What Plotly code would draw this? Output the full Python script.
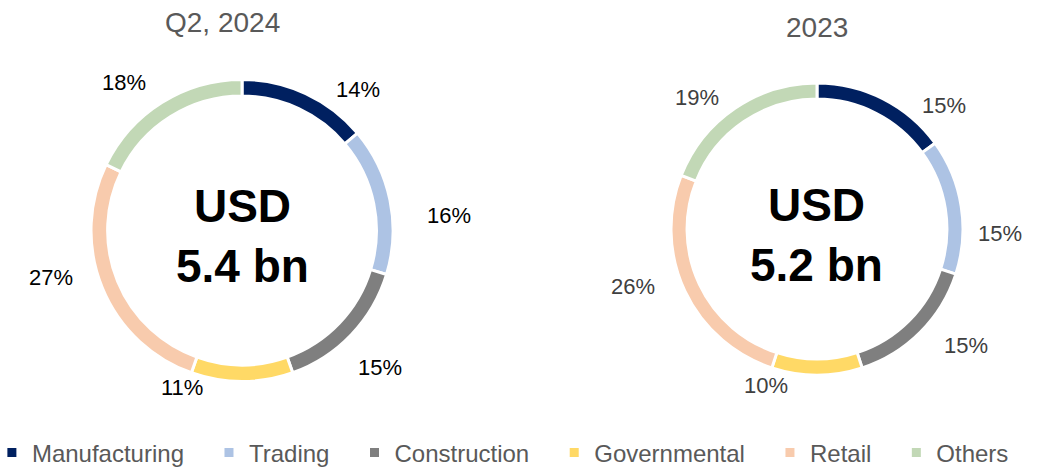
import math
import plotly.graph_objects as go

# ---- data ----
categories = ["Manufacturing", "Trading", "Construction", "Governmental", "Retail", "Others"]
values_q2_2024 = [14, 16, 15, 11, 27, 18]
values_2023 = [15, 15, 15, 10, 26, 19]
chart_titles = ["Q2, 2024", "2023"]
center_texts = ["USD<br>5.4 bn", "USD<br>5.2 bn"]

# ---- style ----
colors = ["#002060", "#ADC3E4", "#7F7F7F", "#FFD966", "#F8CBAD", "#C2D8B6"]
W, H = 1051, 468
FONT = "Arial, Liberation Sans, sans-serif"
domains = [
    dict(x=[0.0866, 0.3740], y=[0.1838, 0.8312]),
    dict(x=[0.6384, 0.9163], y=[0.1987, 0.8226]),
]
label_colors = ["#000000", "#404040"]
# manual label placement tweaks (angle nudge in degrees, distance as multiple of radius)
label_angle_nudge = [[14.4, 7.5, 1.3, 20.8, 8.5, -6.3],
                     [18.9, 10.3, -6.9, 18.2, 7.8, -8.0]]
label_radius = [[1.207, 1.374, 1.288, 1.112, 1.303, 1.254],
                [1.215, 1.253, 1.297, 1.129, 1.320, 1.219]]
title_xshift = [-20, 0]
title_yshift = [0, -5]
NBSP = "\u00a0"

fig = go.Figure()
annotations = []
series = [values_q2_2024, values_2023]

for i, vals in enumerate(series):
    d = domains[i]
    fig.add_trace(go.Pie(
        labels=[c + NBSP * 3 for c in categories],
        values=vals,
        hole=0.89,
        sort=False,
        direction="clockwise",
        rotation=0,
        marker=dict(colors=colors, line=dict(color="white", width=3)),
        textinfo="none",
        hoverinfo="label+percent",
        domain=d,
        showlegend=True,
    ))
    cx = (d["x"][0] + d["x"][1]) / 2
    cy = (d["y"][0] + d["y"][1]) / 2
    r_px = min((d["x"][1] - d["x"][0]) * W, (d["y"][1] - d["y"][0]) * H) / 2
    total = sum(vals)
    cum = 0
    for j, v in enumerate(vals):
        mid = (cum + v / 2) / total * 360 + label_angle_nudge[i][j]
        cum += v
        dist = label_radius[i][j] * r_px
        a = math.radians(mid)
        annotations.append(dict(
            x=cx + dist * math.sin(a) / W,
            y=cy + dist * math.cos(a) / H,
            xref="paper", yref="paper", showarrow=False,
            text=f"{v}%",
            font=dict(family=FONT, size=22, color=label_colors[i]),
            xanchor="center", yanchor="middle",
        ))
    # center text
    annotations.append(dict(
        x=cx, y=cy, xref="paper", yref="paper", showarrow=False,
        text=f"<b>{center_texts[i]}</b>", yshift=-6,
        font=dict(family=FONT, size=46, color="#000000"),
        xanchor="center", yanchor="middle",
    ))
    # title
    annotations.append(dict(
        x=cx, y=1 - 22 / H, xref="paper", yref="paper", showarrow=False,
        text=chart_titles[i], xshift=title_xshift[i], yshift=title_yshift[i],
        font=dict(family=FONT, size=28, color="#595959"),
        xanchor="center", yanchor="middle",
    ))

fig.update_layout(
    width=W, height=H,
    margin=dict(l=0, r=0, t=0, b=0, autoexpand=False),
    paper_bgcolor="white", plot_bgcolor="white",
    annotations=annotations,
    legend=dict(
        orientation="h", x=0.488, xanchor="center", y=0.032, yanchor="middle",
        font=dict(family=FONT, size=24, color="#595959"),
        itemwidth=30, traceorder="normal",
    ),
)

fig.write_html(
    "out.html",
    config={"displayModeBar": False},
    post_script="document.body.style.margin='0';document.body.style.overflow='hidden';",
)
